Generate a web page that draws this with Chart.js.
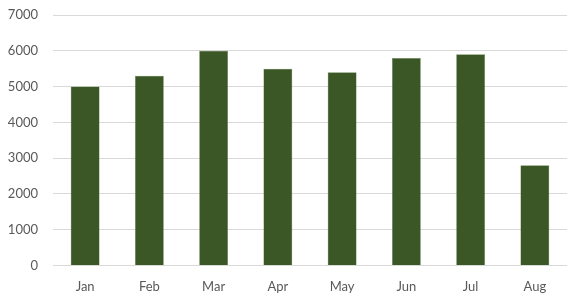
<!DOCTYPE html>
<html>
<head>
<meta charset="utf-8">
<script src="https://cdn.jsdelivr.net/npm/chart.js@4"></script>
<style>
  html, body { margin: 0; padding: 0; background: #fff; }
  #wrap { width: 581px; height: 301px; }
</style>
</head>
<body>
<div id="wrap"><canvas id="myChart" width="581" height="301"></canvas></div>
<script>
const months = ["Jan", "Feb", "Mar", "Apr", "May", "Jun", "Jul", "Aug"];
const sales = [5000, 5300, 6000, 5500, 5400, 5800, 5900, 2800];
const yTicks = [0, 1000, 2000, 3000, 4000, 5000, 6000, 7000];

const ctx = document.getElementById('myChart').getContext('2d');
new Chart(ctx, {
  type: 'bar',
  data: {
    labels: months,
    datasets: [{
      data: sales,
      backgroundColor: '#3b5726',
      borderColor: '#6f8a5c',
      borderWidth: 0.5,
      categoryPercentage: 1,
      barPercentage: 0.45
    }]
  },
  options: {
    responsive: false,
    animation: false,
    layout: { padding: { top: 15, right: 14, bottom: 0, left: 8 } },
    plugins: { legend: { display: false }, tooltip: { enabled: false } },
    scales: {
      x: {
        grid: { display: false },
        border: { display: false },
        ticks: { color: '#595959', font: { family: 'Lato', size: 13 }, padding: 6 }
      },
      y: {
        min: 0,
        max: 7000,
        afterBuildTicks: (axis) => { axis.ticks = yTicks.map(v => ({ value: v })); },
        afterFit: (axis) => { axis.width = 45; axis.paddingTop = 0; },
        grid: { color: '#d9d9d9', lineWidth: 1, drawTicks: false },
        border: { display: false },
        ticks: { color: '#595959', font: { family: 'Lato', size: 13 }, padding: 15,
                 callback: (v) => String(v) }
      }
    }
  }
});
</script>
</body>
</html>
